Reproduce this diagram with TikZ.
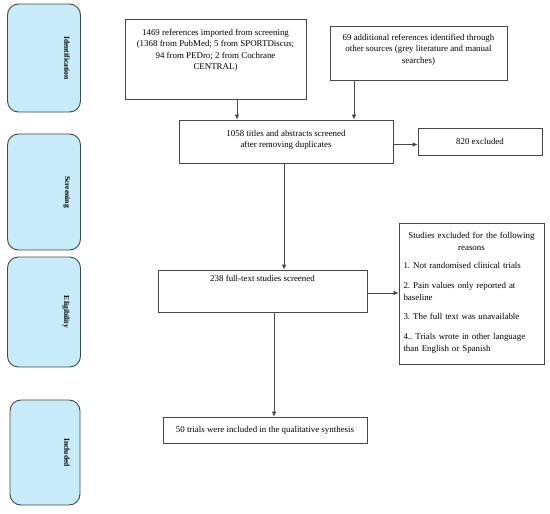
\documentclass[tikz,border=0pt]{standalone}
\usepackage{fontspec}
\setmainfont{Liberation Serif}
\usetikzlibrary{arrows.meta}
\definecolor{bandfill}{HTML}{C8EBF9}
\definecolor{bandline}{HTML}{3C4A4C}
\definecolor{boxline}{HTML}{454545}
\frenchspacing
\begin{document}
\begin{tikzpicture}[x=1pt,y=-1pt,
  band/.style={draw=bandline, fill=bandfill, line width=0.9pt, rounded corners=11pt, minimum width=73pt},
  bandlabel/.style={rotate=-90, font=\fontsize{7.6}{9}\selectfont\bfseries, inner sep=0pt},
  flowbox/.style={draw=boxline, line width=0.8pt, inner sep=0pt},
  boxtext/.style={font=\fontsize{8.9}{11.6}\selectfont, align=center, inner sep=0pt},
  arr/.style={draw=boxline, line width=0.8pt, -{Latex[length=5pt,width=4.5pt]}}]
\useasboundingbox (0,0) rectangle (550,514);
% side bands
\node[band, minimum height=108pt] (bid) at (44,58) {};
\node[bandlabel] (lid) at (67,58) {Identification};
\node[band, minimum height=116pt] (bsc) at (44,192) {};
\node[bandlabel] (lsc) at (67,192) {Screening};
\node[band, minimum height=110pt] (bel) at (44,312) {};
\node[bandlabel] (lel) at (66,312) {Eligibility};
\node[band, minimum height=105pt, minimum width=70pt] (bin) at (45,452.5) {};
\node[bandlabel] (lin) at (67,452.5) {Included};
% boxes
\node[flowbox, minimum width=181pt, minimum height=80pt] (box1) at (215.5,59) {};
\node[boxtext, anchor=north] (t1) at ([yshift=-10pt]box1.north) {1469 references imported from screening\\(1368 from PubMed; 5 from SPORTDiscus;\\94 from PEDro; 2 from Cochrane\\CENTRAL)};
\node[flowbox, minimum width=177pt, minimum height=54pt] (box2) at (418.5,53) {};
\node[boxtext, anchor=north] (t2) at ([yshift=-8pt]box2.north) {69 additional references identified through\\other sources (grey literature and manual\\searches)};
\node[flowbox, minimum width=214pt, minimum height=43pt] (box3) at (286,141.5) {};
\node[boxtext] (t3) at ([yshift=1.5pt]box3.center) {1058 titles and abstracts screened\\after removing duplicates};
\node[flowbox, minimum width=124pt, minimum height=27pt] (box4) at (480,141.5) {};
\node[boxtext] (t4) at (box4.center) {820 excluded};
\node[flowbox, minimum width=209pt, minimum height=42pt] (box5) at (262.5,291) {};
\node[boxtext, anchor=north] (t5) at ([yshift=-5pt]box5.north) {238 full-text studies screened};
\node[flowbox, minimum width=145pt, minimum height=141pt] (box6) at (471.5,293.5) {};
\node[font=\fontsize{8.9}{12}\selectfont, text width=136pt, inner sep=0pt, anchor=north] (t6) at ([yshift=-9pt]box6.north)
 {{\centering Studies excluded for the following\\ reasons\par}\vspace{6.5pt}
  1. Not randomised clinical trials\par\vspace{7.5pt}
  2. Pain values only reported at\\ baseline\par\vspace{7.5pt}
  3. The full text was unavailable\par\vspace{7.5pt}
  4.. Trials wrote in other language\\ than English or Spanish\par};
\node[flowbox, minimum width=204pt, minimum height=26pt] (box7) at (265,430) {};
\node[boxtext] (t7) at (box7.center) {50 trials were included in the qualitative synthesis};
% connectors
\draw[arr] ([xshift=21.5pt]box1.south) -- ([xshift=21.5pt]box1.south |- box3.north);
\draw[arr] ([xshift=-64.5pt]box2.south) -- ([xshift=-64.5pt]box2.south |- box3.north);
\draw[arr] ([yshift=-3pt]box3.east) -- ([yshift=-3pt]box3.east -| box4.west);
\draw[arr] ([xshift=-2pt]box3.south) -- ([xshift=-2pt]box3.south |- box5.north);
\draw[arr] ([yshift=-2pt]box5.east) -- ([yshift=-2pt]box5.east -| box6.west);
\draw[arr] ([xshift=11.5pt]box5.south) -- ([xshift=11.5pt]box5.south |- box7.north);
\end{tikzpicture}
\end{document}
